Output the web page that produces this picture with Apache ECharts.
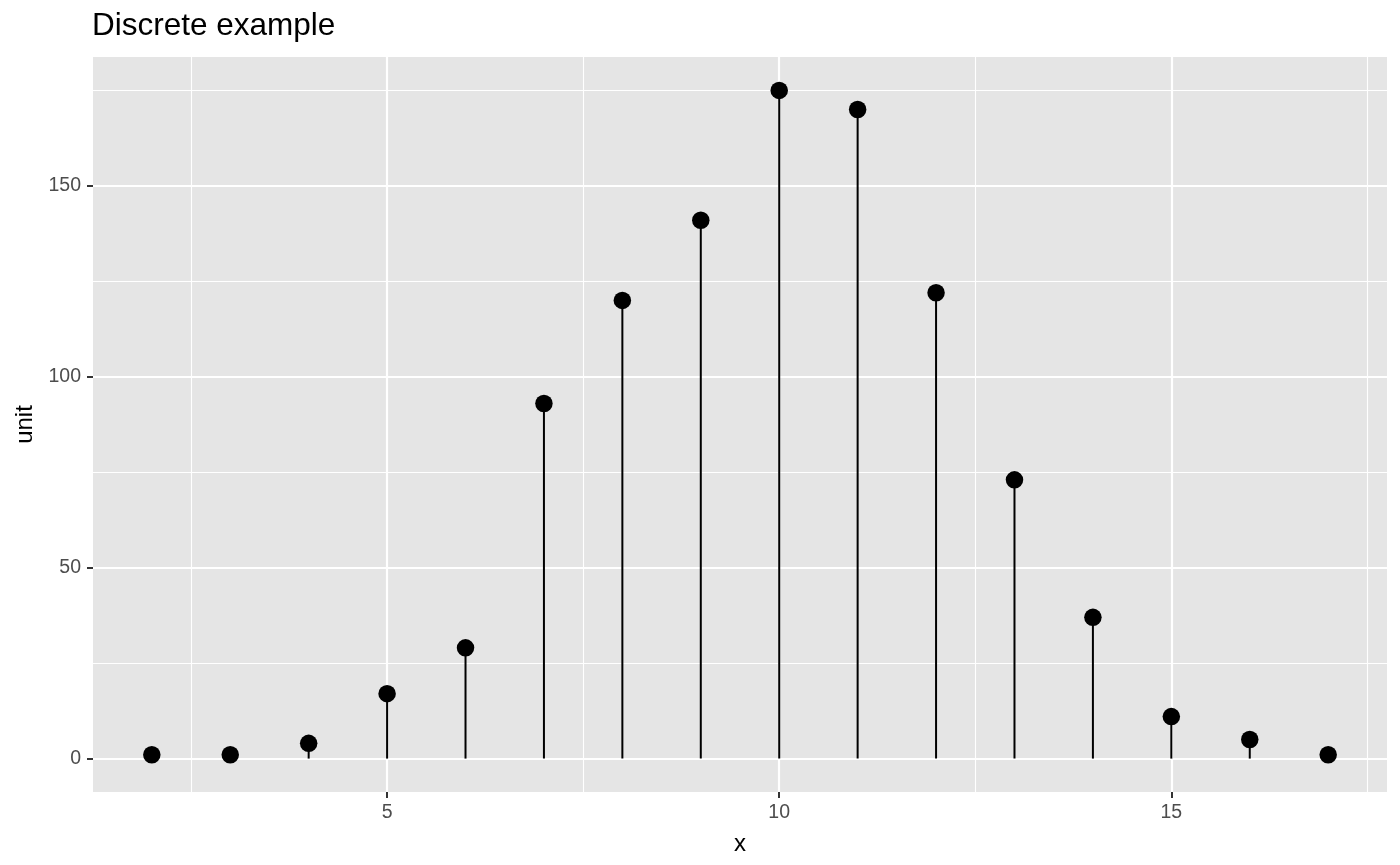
<!DOCTYPE html>
<html>
<head>
<meta charset="utf-8">
<script src="https://cdn.jsdelivr.net/npm/echarts@6/dist/echarts.min.js"></script>
<style>html,body{margin:0;padding:0;background:#fff}#c{width:1400px;height:865px}</style>
</head>
<body>
<div id="c"></div>
<script>
const xValues = [2, 3, 4, 5, 6, 7, 8, 9, 10, 11, 12, 13, 14, 15, 16, 17];
const unitValues = [1, 1, 4, 17, 29, 93, 120, 141, 175, 170, 122, 73, 37, 11, 5, 1];
const xTicks = [5, 10, 15];
const xMinor = [2.5, 7.5, 12.5, 17.5];
const yTicks = [0, 50, 100, 150];
const yMinor = [25, 75, 125, 175];
const xRange = [1.25, 17.75];
const yRange = [-8.75, 183.75];

const FONT = "Liberation Sans, Arial, Helvetica, sans-serif";
const pts = xValues.map((x, i) => [x, unitValues[i]]);

function gridLines(vals, key, width) {
  return vals.map(v => ({ [key]: v, lineStyle: { color: '#FFFFFF', width: width, type: 'solid' } }));
}

const chart = echarts.init(document.getElementById('c'), null, { renderer: 'canvas' });
chart.setOption({
  animation: false,
  backgroundColor: '#FFFFFF',
  title: {
    text: 'Discrete example',
    left: 92, top: 10, padding: 0,
    textStyle: { fontFamily: FONT, fontSize: 31.5, fontWeight: 'normal', color: '#000000' }
  },
  grid: {
    left: 93, right: 13, top: 57, bottom: 73,
    show: true, backgroundColor: '#E5E5E5', borderWidth: 0
  },
  xAxis: {
    type: 'value', min: xRange[0], max: xRange[1],
    name: 'x', nameLocation: 'middle', nameGap: 40,
    nameTextStyle: { fontFamily: FONT, fontSize: 24, color: '#000000' },
    axisLine: { show: false, onZero: false },
    axisTick: { show: true, customValues: xTicks, length: 6, lineStyle: { color: '#333333', width: 2 } },
    axisLabel: { customValues: xTicks, fontFamily: FONT, fontSize: 19.5, color: '#4D4D4D', margin: 11 },
    splitLine: { show: false }
  },
  yAxis: {
    type: 'value', min: yRange[0], max: yRange[1],
    name: 'unit', nameLocation: 'middle', nameGap: 56,
    nameTextStyle: { fontFamily: FONT, fontSize: 24, color: '#000000' },
    axisLine: { show: false, onZero: false },
    axisTick: { show: true, customValues: yTicks, length: 6, lineStyle: { color: '#333333', width: 2 } },
    axisLabel: { customValues: yTicks, fontFamily: FONT, fontSize: 19.5, color: '#4D4D4D', margin: 12 },
    splitLine: { show: false }
  },
  series: [
    {
      type: 'line', data: [], silent: true, z: 0,
      markLine: {
        silent: true, symbol: 'none', label: { show: false }, animation: false, z: 0,
        data: [].concat(
          gridLines(xMinor, 'xAxis', 1.1),
          gridLines(yMinor, 'yAxis', 1.1),
          gridLines(xTicks, 'xAxis', 2.2),
          gridLines(yTicks, 'yAxis', 2.2)
        )
      }
    },
    {
      type: 'bar', data: pts, barWidth: 2, z: 3, silent: true,
      itemStyle: { color: '#000000' }
    },
    {
      type: 'scatter', data: pts, symbol: 'circle', symbolSize: 17.5, z: 4, silent: true,
      itemStyle: { color: '#000000', opacity: 1 }
    }
  ]
});
</script>
</body>
</html>
